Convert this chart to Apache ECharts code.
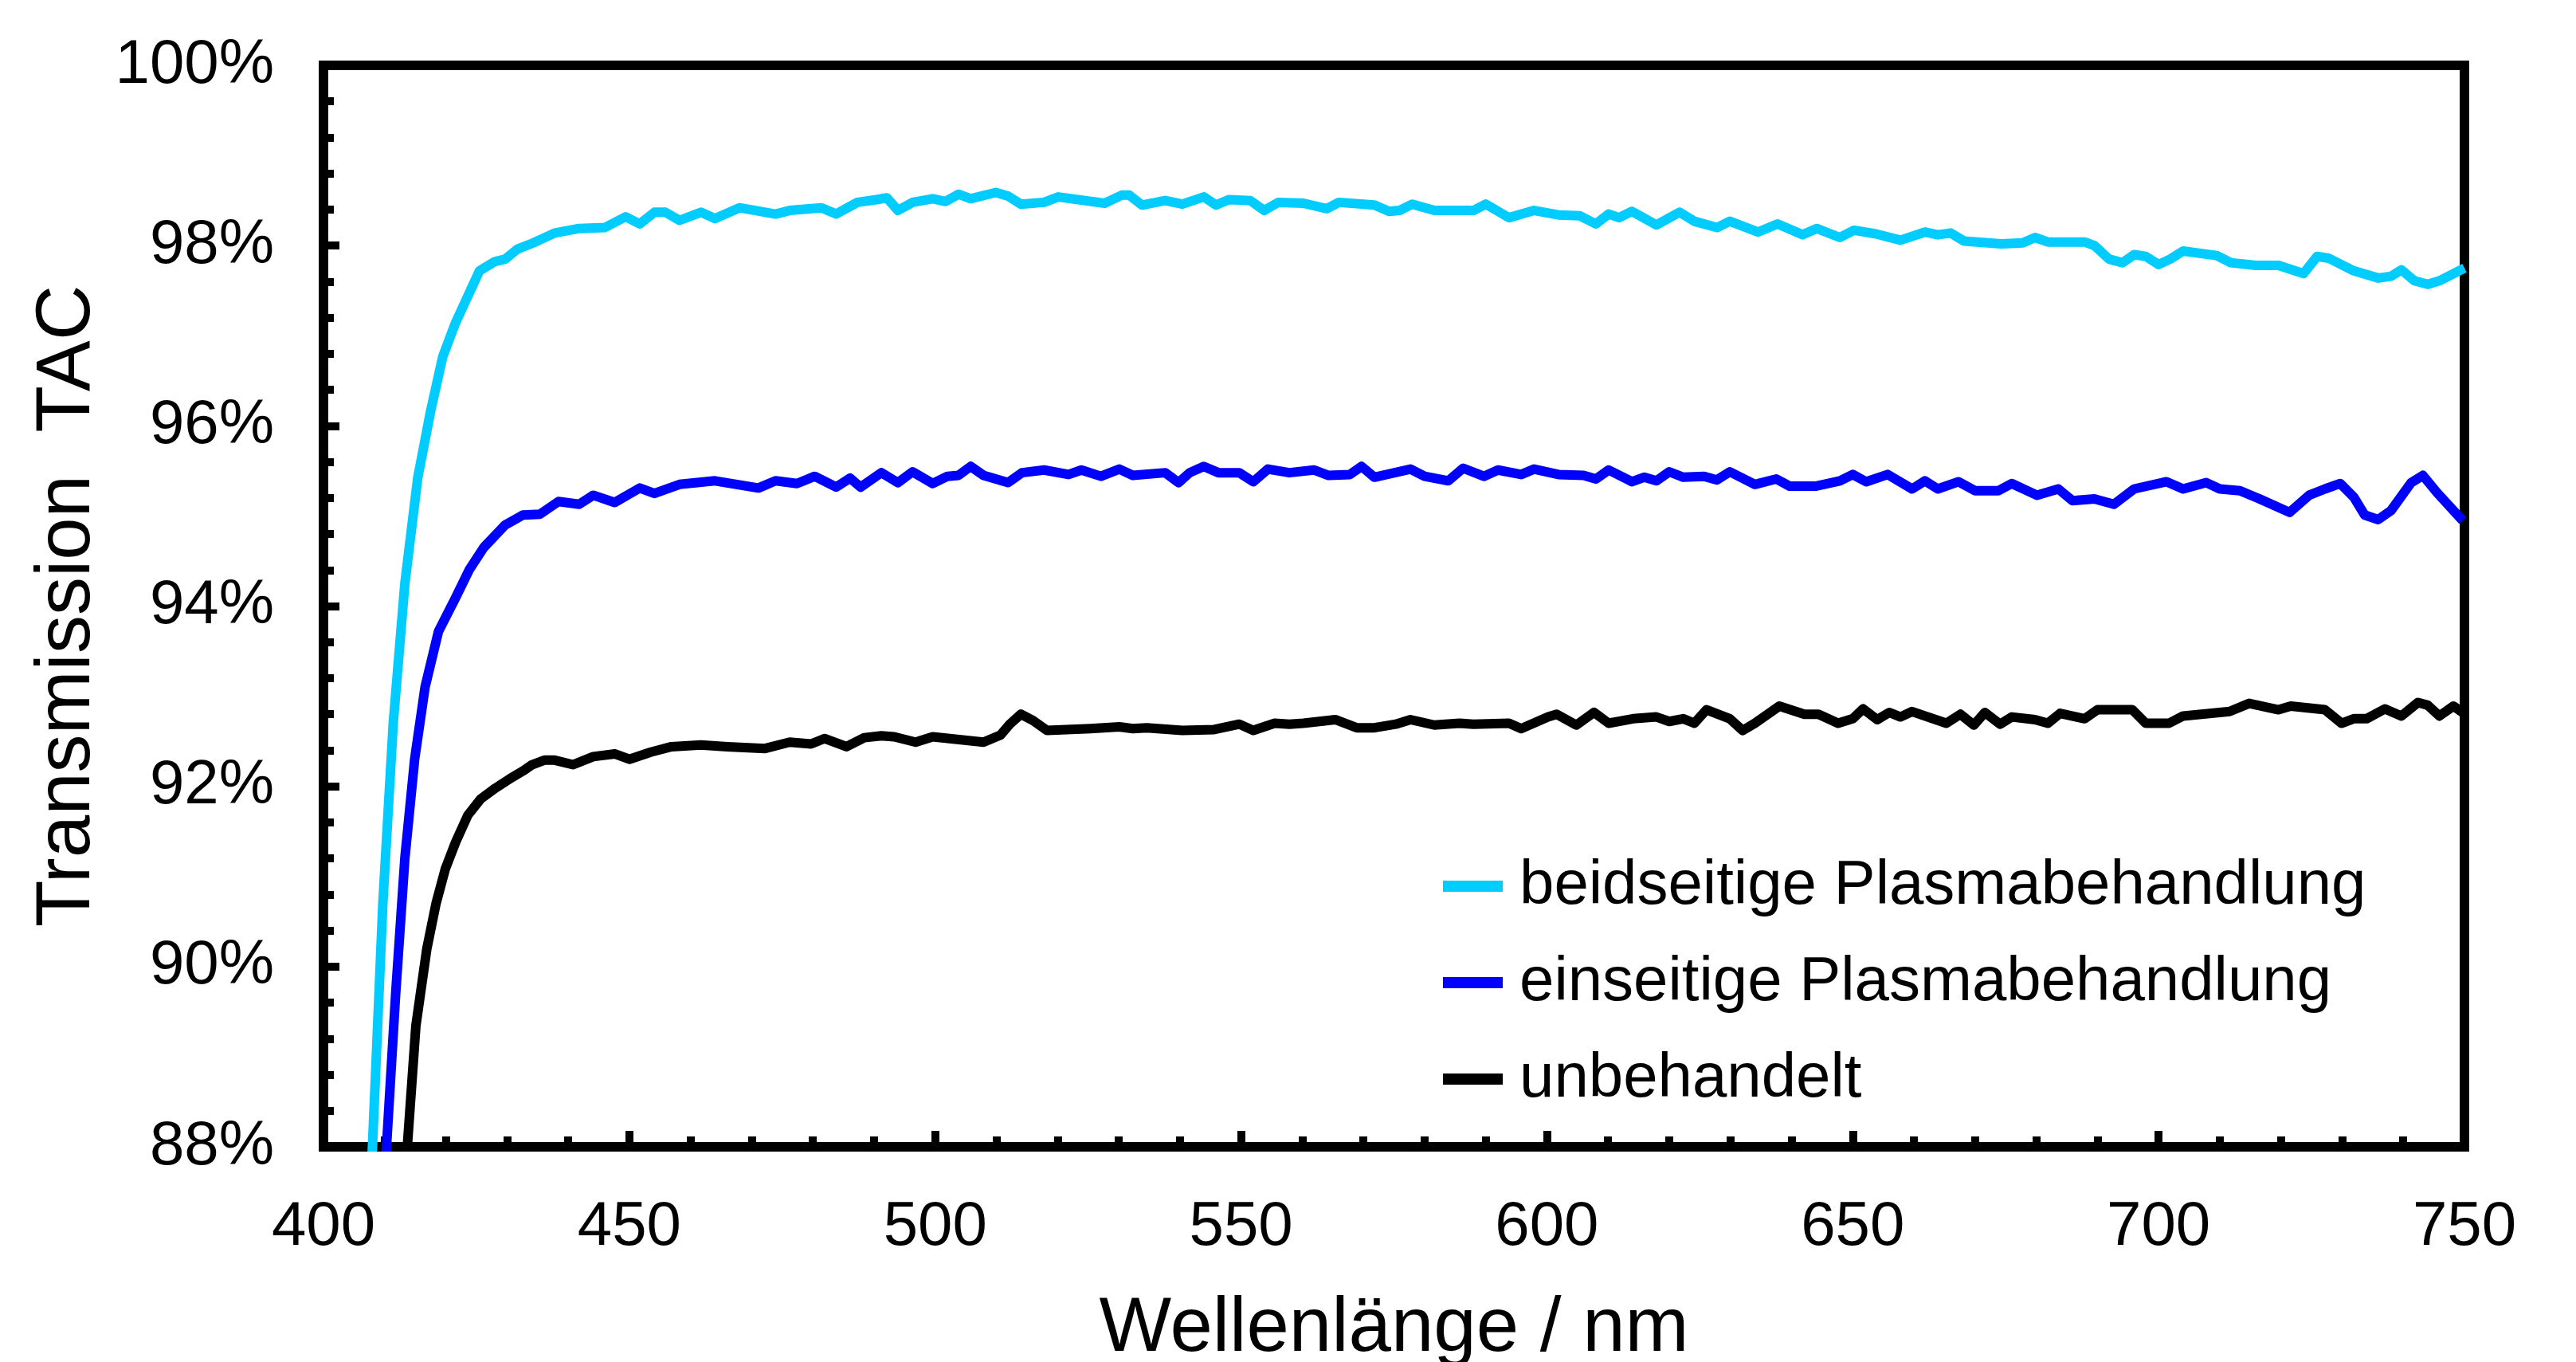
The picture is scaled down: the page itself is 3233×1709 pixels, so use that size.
<!DOCTYPE html>
<html>
<head>
<meta charset="utf-8">
<title>Transmission TAC</title>
<script src="https://cdn.jsdelivr.net/npm/echarts@6/dist/echarts.min.js"></script>
<style>
    html, body { margin: 0; padding: 0; background: #fff; }
    #chart { width: 3233px; height: 1709px; }
</style>
</head>
<body>
<div id="chart"></div>
<script>
// Achsen
var xTicks = [400, 450, 500, 550, 600, 650, 700, 750];
var yTicks = [88, 90, 92, 94, 96, 98, 100];

// beidseitige Plasmabehandlung
var beidNm = [407.5, 408.0, 409.7, 411.4, 413.3, 415.4, 417.5, 419.5, 421.5, 425.5, 427.9, 429.7, 431.7, 434.3, 437.8, 441.8, 446.0, 449.4, 451.7, 454.1, 455.9, 458.2, 461.7, 464.0, 468.0, 473.9, 476.2, 481.4, 483.8, 487.3, 490.4, 492.1, 493.9, 496.3, 499.6, 501.7, 503.8, 505.8, 509.9, 511.9, 514.0, 517.8, 520.1, 527.7, 530.5, 531.7, 533.8, 537.6, 540.4, 543.9, 545.9, 548.0, 551.5, 553.8, 556.1, 560.2, 564.0, 566.0, 571.8, 574.2, 575.9, 578.0, 581.6, 588.0, 590.0, 593.8, 597.9, 601.9, 605.4, 608.0, 610.1, 611.8, 613.9, 617.9, 621.7, 624.1, 627.8, 629.9, 634.5, 637.7, 641.8, 644.1, 647.9, 650.2, 653.8, 657.8, 661.8, 663.9, 666.0, 668.2, 674.3, 677.8, 679.8, 681.9, 687.9, 689.5, 691.9, 694.1, 696.0, 697.9, 700.0, 701.9, 704.0, 709.5, 711.8, 715.9, 719.6, 723.7, 725.9, 727.8, 731.9, 735.9, 738.0, 739.7, 741.8, 744.0, 745.9, 750.0];
var beidVal = [87.3, 88.0, 90.7, 92.7, 94.25, 95.42, 96.16, 96.77, 97.13, 97.72, 97.82, 97.85, 97.96, 98.03, 98.14, 98.19, 98.20, 98.32, 98.24, 98.37, 98.37, 98.28, 98.37, 98.30, 98.42, 98.35, 98.39, 98.42, 98.35, 98.48, 98.51, 98.53, 98.39, 98.48, 98.52, 98.49, 98.57, 98.52, 98.59, 98.55, 98.46, 98.48, 98.54, 98.47, 98.56, 98.56, 98.45, 98.50, 98.46, 98.54, 98.45, 98.51, 98.50, 98.39, 98.48, 98.47, 98.41, 98.48, 98.45, 98.38, 98.39, 98.46, 98.39, 98.39, 98.46, 98.31, 98.39, 98.34, 98.33, 98.24, 98.35, 98.31, 98.38, 98.23, 98.37, 98.27, 98.20, 98.27, 98.15, 98.24, 98.12, 98.19, 98.09, 98.17, 98.13, 98.06, 98.15, 98.12, 98.14, 98.05, 98.02, 98.03, 98.09, 98.04, 98.04, 98.00, 97.85, 97.81, 97.90, 97.88, 97.79, 97.85, 97.94, 97.89, 97.81, 97.78, 97.78, 97.69, 97.88, 97.86, 97.72, 97.64, 97.66, 97.73, 97.61, 97.57, 97.61, 97.75];

// einseitige Plasmabehandlung
var einNm = [409.6, 410.3, 411.8, 413.3, 414.9, 416.6, 418.8, 421.5, 423.8, 426.2, 429.7, 432.6, 435.4, 438.4, 441.8, 444.1, 447.6, 451.7, 454.1, 458.2, 464.0, 471.1, 473.9, 477.4, 480.3, 483.8, 486.1, 487.8, 491.2, 493.9, 496.3, 499.6, 502.0, 503.8, 505.8, 507.9, 509.9, 511.9, 514.2, 517.8, 521.8, 523.9, 527.1, 530.1, 532.3, 537.6, 539.8, 541.6, 543.9, 546.3, 549.7, 552.0, 554.4, 557.9, 561.9, 564.3, 567.8, 569.7, 571.8, 577.7, 580.0, 583.9, 586.3, 589.7, 592.0, 595.8, 597.9, 601.9, 606.0, 608.0, 610.1, 613.9, 615.9, 617.9, 620.0, 622.3, 625.7, 627.8, 629.9, 634.0, 637.5, 639.7, 643.9, 647.9, 650.0, 652.2, 655.7, 659.7, 661.8, 663.9, 667.3, 670.0, 673.8, 676.0, 680.1, 683.6, 685.9, 689.5, 692.7, 696.0, 701.3, 704.0, 707.8, 710.0, 713.3, 716.5, 721.4, 724.6, 727.2, 729.7, 731.9, 733.7, 735.9, 738.0, 741.3, 743.2, 745.5, 749.7];
var einVal = [87.2, 88.0, 89.7, 91.2, 92.3, 93.1, 93.72, 94.08, 94.40, 94.65, 94.90, 95.01, 95.02, 95.16, 95.13, 95.23, 95.15, 95.31, 95.25, 95.35, 95.39, 95.31, 95.39, 95.36, 95.44, 95.32, 95.42, 95.32, 95.48, 95.37, 95.49, 95.36, 95.44, 95.45, 95.55, 95.45, 95.41, 95.37, 95.48, 95.51, 95.46, 95.51, 95.44, 95.52, 95.45, 95.48, 95.37, 95.48, 95.55, 95.48, 95.48, 95.38, 95.52, 95.48, 95.51, 95.45, 95.46, 95.55, 95.43, 95.52, 95.44, 95.39, 95.53, 95.44, 95.51, 95.46, 95.52, 95.46, 95.45, 95.41, 95.51, 95.38, 95.43, 95.39, 95.49, 95.43, 95.44, 95.40, 95.49, 95.35, 95.41, 95.33, 95.33, 95.39, 95.46, 95.38, 95.46, 95.30, 95.39, 95.30, 95.38, 95.28, 95.28, 95.36, 95.23, 95.30, 95.17, 95.19, 95.13, 95.30, 95.38, 95.30, 95.37, 95.30, 95.28, 95.19, 95.04, 95.23, 95.30, 95.36, 95.21, 95.01, 94.96, 95.06, 95.37, 95.45, 95.26, 94.95];

// unbehandelt
var unbNm = [413.0, 413.7, 415.1, 416.9, 418.4, 419.9, 421.6, 423.6, 425.7, 428.1, 430.6, 432.6, 434.1, 436.1, 437.8, 440.8, 444.1, 447.6, 450.0, 453.5, 456.9, 461.7, 466.0, 472.2, 476.2, 479.7, 481.9, 485.5, 488.4, 491.2, 493.3, 496.8, 499.6, 507.9, 510.7, 512.2, 514.0, 516.0, 518.3, 525.4, 530.1, 532.3, 534.6, 540.4, 545.6, 549.7, 552.0, 555.5, 557.9, 560.2, 565.4, 568.9, 571.8, 575.3, 577.7, 581.6, 585.7, 588.0, 593.8, 595.8, 600.2, 601.6, 604.8, 607.7, 610.1, 614.1, 617.9, 620.0, 622.3, 624.1, 626.1, 629.9, 632.0, 634.0, 638.0, 642.1, 644.4, 647.6, 650.0, 651.7, 654.0, 656.0, 657.8, 659.7, 665.3, 667.6, 669.8, 671.6, 674.1, 676.0, 679.8, 681.9, 683.9, 687.9, 690.0, 695.7, 697.9, 701.7, 704.0, 711.6, 714.8, 719.6, 721.6, 727.2, 729.9, 731.9, 734.0, 737.0, 739.7, 742.4, 744.0, 745.9, 748.2, 749.7];
var unbVal = [87.3, 88.0, 89.34, 90.20, 90.70, 91.08, 91.38, 91.68, 91.86, 91.98, 92.09, 92.17, 92.24, 92.29, 92.29, 92.24, 92.33, 92.36, 92.30, 92.38, 92.44, 92.46, 92.44, 92.42, 92.49, 92.47, 92.53, 92.44, 92.54, 92.56, 92.55, 92.49, 92.55, 92.49, 92.57, 92.69, 92.80, 92.73, 92.62, 92.64, 92.66, 92.64, 92.65, 92.62, 92.63, 92.69, 92.62, 92.70, 92.69, 92.70, 92.74, 92.65, 92.65, 92.69, 92.74, 92.68, 92.70, 92.69, 92.70, 92.64, 92.77, 92.80, 92.68, 92.82, 92.70, 92.75, 92.77, 92.72, 92.75, 92.70, 92.85, 92.75, 92.62, 92.70, 92.89, 92.80, 92.80, 92.70, 92.75, 92.86, 92.74, 92.82, 92.77, 92.83, 92.70, 92.80, 92.68, 92.82, 92.69, 92.77, 92.74, 92.70, 92.81, 92.75, 92.85, 92.85, 92.70, 92.70, 92.78, 92.83, 92.92, 92.85, 92.89, 92.85, 92.70, 92.75, 92.75, 92.86, 92.78, 92.93, 92.90, 92.78, 92.89, 92.82];

var seriesNames = ['beidseitige Plasmabehandlung', 'einseitige Plasmabehandlung', 'unbehandelt'];
var seriesColors = ['#00CCFF', '#0000FF', '#000000'];

var FONT = '"Liberation Sans", Arial, sans-serif';

// x/y Listen zu Punkten
function toPairs(xs, ys) {
    var list = [];
    for (var i = 0; i < xs.length; i++) {
        list.push([xs[i], ys[i]]);
    }
    return list;
}

var lineSeries = function(idx, xs, ys) {
    return {
        name: seriesNames[idx],
        type: 'line',
        data: toPairs(xs, ys),
        showSymbol: false,
        symbol: 'none',
        smooth: false,
        clip: true,
        animation: false,
        color: seriesColors[idx],
        lineStyle: { width: 12, color: seriesColors[idx], join: 'round' }
    };
};

var chart = echarts.init(document.getElementById('chart'), null, { renderer: 'canvas' });

var option = {
    backgroundColor: '#fff',
    animation: false,
    textStyle: { fontFamily: FONT },
    grid: {
        left: 406,
        right: 140,
        top: 82,
        bottom: 270,
        show: true,
        borderWidth: 12,
        borderColor: '#000',
        containLabel: false,
        // Titel darf unten angeschnitten sein, Plotfläche nicht verkleinern
        outerBoundsMode: 'none'
    },
    legend: {
        orient: 'vertical',
        left: 1806,
        top: 1068,
        itemWidth: 75,
        itemHeight: 14,
        itemGap: 43,
        icon: 'rect',
        data: seriesNames,
        textStyle: {
            fontFamily: FONT,
            fontSize: 78,
            color: '#000',
            padding: [0, 0, 0, 16]
        }
    },
    xAxis: {
        type: 'value',
        min: xTicks[0],
        max: xTicks[xTicks.length - 1],
        interval: 50,
        name: 'Wellenlänge / nm',
        nameLocation: 'middle',
        nameGap: 182,
        nameTextStyle: { fontFamily: FONT, fontSize: 96, color: '#000' },
        axisLine: { show: true, onZero: false, lineStyle: { color: '#000', width: 12 } },
        axisTick: { show: true, inside: true, length: 20, lineStyle: { color: '#000', width: 10 } },
        minorTick: { show: true, splitNumber: 5, length: 13, lineStyle: { color: '#000', width: 10 } },
        splitLine: { show: false },
        minorSplitLine: { show: false },
        axisLabel: {
            fontFamily: FONT,
            fontSize: 78,
            color: '#000',
            margin: 62
        }
    },
    yAxis: {
        type: 'value',
        min: yTicks[0],
        max: yTicks[yTicks.length - 1],
        interval: 2,
        name: 'Transmission  TAC',
        nameLocation: 'middle',
        nameRotate: 90,
        nameGap: 252,
        nameTextStyle: { fontFamily: FONT, fontSize: 96, color: '#000' },
        axisLine: { show: true, onZero: false, lineStyle: { color: '#000', width: 12 } },
        axisTick: { show: true, inside: true, length: 20, lineStyle: { color: '#000', width: 10 } },
        minorTick: { show: true, splitNumber: 5, length: 13, lineStyle: { color: '#000', width: 10 } },
        splitLine: { show: false },
        minorSplitLine: { show: false },
        axisLabel: {
            fontFamily: FONT,
            fontSize: 78,
            color: '#000',
            margin: 62,
            formatter: '{value}%'
        }
    },
    series: [
        lineSeries(0, beidNm, beidVal),
        lineSeries(1, einNm, einVal),
        lineSeries(2, unbNm, unbVal)
    ]
};

chart.setOption(option);
</script>
</body>
</html>
